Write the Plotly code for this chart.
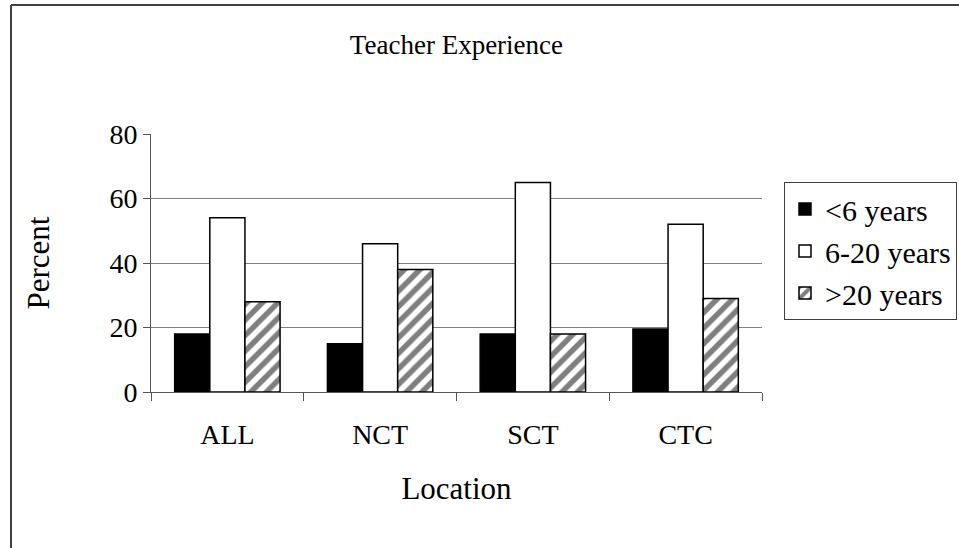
import plotly.graph_objects as go

categories = ["ALL", "NCT", "SCT", "CTC"]
lt6_years = [18, 15, 18, 19.5]
y6_20_years = [54, 46, 65, 52]
gt20_years = [28, 38, 18, 29]
series_names = ["<6 years", "6-20 years", ">20 years"]
y_ticks = [0, 20, 40, 60, 80]

FONT = "Liberation Serif, Times New Roman, serif"

fig = go.Figure()
fig.add_trace(go.Bar(x=categories, y=lt6_years, name=series_names[0],
                     marker=dict(color="black", line=dict(color="black", width=1.5))))
fig.add_trace(go.Bar(x=categories, y=y6_20_years, name=series_names[1],
                     marker=dict(color="white", line=dict(color="black", width=1.5))))
fig.add_trace(go.Bar(x=categories, y=gt20_years, name=series_names[2],
                     marker=dict(color="white", line=dict(color="black", width=1.5),
                                 pattern=dict(shape="/", fgcolor="black", bgcolor="white",
                                              size=11, solidity=0.5))))

fig.update_layout(
    width=959, height=548,
    margin=dict(l=151, r=197, t=134, b=156, autoexpand=False),
    paper_bgcolor="white", plot_bgcolor="white",
    font=dict(family=FONT, size=28, color="black"),
    barmode="group", bargap=0.31, bargroupgap=0,
    title=dict(text="Teacher Experience", x=0.476, xanchor="center",
               y=1 - 45 / 548, yanchor="middle", yref="container",
               font=dict(family=FONT, size=27, color="black")),
    showlegend=True,
    legend=dict(x=1.036, y=0.814, xanchor="left", yanchor="top",
                bordercolor="#404040", borderwidth=1, bgcolor="white",
                font=dict(family=FONT, size=30, color="black"),
                tracegroupgap=0, itemwidth=30),
    xaxis=dict(title=dict(text="Location", standoff=28, font=dict(size=31)),
               showline=True, linecolor="#555555", linewidth=1,
               ticks="outside", ticklen=8, tickcolor="#555555", tickson="boundaries",
               ticklabelstandoff=17, showgrid=False, automargin=False),
    yaxis=dict(title=dict(text="Percent", standoff=50, font=dict(size=31)),
               range=[0, 80], tickvals=y_ticks, showline=True, linecolor="#555555",
               linewidth=1, ticks="outside", ticklen=7, tickcolor="#555555",
               showgrid=True, gridcolor="#808080", gridwidth=1, zeroline=False,
               automargin=False),
    shapes=[
        dict(type="line", xref="paper", yref="paper",
             x0=(11 - 151) / 611, x1=(11 - 151) / 611, y0=(392 - 5) / 258, y1=(392 - 560) / 258,
             line=dict(color="#404040", width=2)),
        dict(type="line", xref="paper", yref="paper",
             x0=(11 - 151) / 611, x1=(970 - 151) / 611, y0=(392 - 5) / 258, y1=(392 - 5) / 258,
             line=dict(color="#404040", width=2)),
    ],
)

fig.write_html("out.html", config={"displayModeBar": False},
               post_script="document.body.style.margin='0px';document.body.style.overflow='hidden';")
